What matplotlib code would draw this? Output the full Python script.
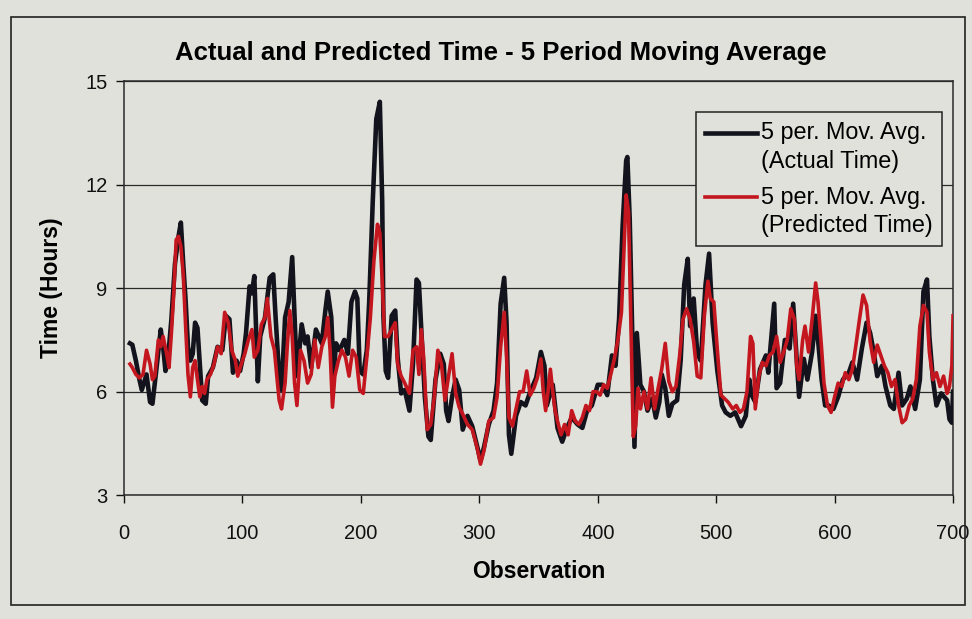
import matplotlib
matplotlib.use("Agg")
import matplotlib.pyplot as plt
from matplotlib.lines import Line2D
from matplotlib.legend_handler import HandlerLine2D
from matplotlib.patches import Rectangle

plt.rcParams['font.family'] = ['Liberation Sans', 'DejaVu Sans']

# 5-period moving average of the actual time (hours)
actual_obs = [5, 7, 10, 13, 15, 19, 22, 24, 27, 31, 33, 35, 37, 40, 43, 46, 48, 50, 52, 54,
              56, 58, 60, 62, 64, 66, 69, 71, 75, 79, 83, 86, 89, 92, 95, 98, 101, 103, 106, 108,
              110, 113, 115, 119, 123, 126, 128, 131, 133, 136, 139, 142, 144, 146, 150, 153, 155, 158, 162, 167,
              170, 172, 175, 177, 179, 182, 186, 189, 192, 195, 197, 199, 202, 205, 207, 210, 213, 216, 218, 219,
              221, 223, 226, 229, 231, 234, 237, 241, 244, 247, 249, 251, 254, 257, 259, 263, 267, 270, 272, 274,
              277, 280, 283, 286, 290, 294, 299, 301, 304, 308, 312, 315, 318, 321, 323, 325, 327, 331, 335, 339,
              343, 348, 352, 355, 357, 362, 366, 370, 374, 378, 383, 387, 391, 395, 400, 404, 408, 412, 415, 418,
              421, 424, 425, 427, 429, 431, 433, 436, 439, 442, 446, 449, 452, 454, 457, 460, 463, 467, 470, 473,
              476, 478, 481, 484, 487, 491, 494, 497, 501, 505, 508, 512, 516, 521, 525, 528, 530, 533, 537, 542,
              544, 549, 551, 554, 558, 562, 565, 568, 570, 574, 577, 581, 584, 586, 589, 592, 595, 599, 603, 607,
              612, 615, 619, 623, 627, 630, 633, 636, 640, 643, 647, 650, 654, 657, 661, 664, 668, 672, 675, 678,
              680, 683, 686, 690, 695, 697, 699, 700]
actual_hours = [7.4, 7.36, 6.9, 6.35, 6.05, 6.5, 5.7, 5.65, 6.55, 7.8, 7.3, 6.6, 6.9, 8.1, 9.7, 10.5, 10.9, 9.7, 8.65, 7.3,
                6.9, 7.1, 8.0, 7.85, 6.8, 5.75, 5.65, 6.45, 6.7, 7.3, 7.2, 8.2, 8.1, 6.55, 6.9, 6.6, 7.1, 7.7, 9.05, 8.85,
                9.35, 6.3, 7.6, 8.15, 9.3, 9.4, 8.15, 6.45, 6.05, 8.15, 8.6, 9.9, 8.15, 6.45, 7.95, 7.4, 7.6, 6.7, 7.8, 7.4,
                8.35, 8.9, 8.15, 6.5, 7.4, 7.2, 7.5, 7.1, 8.6, 8.9, 8.7, 6.6, 6.5, 7.2, 8.6, 11.5, 13.9, 14.4, 11.5, 8.2,
                6.6, 6.4, 8.2, 8.35, 7.0, 5.95, 6.05, 5.45, 6.8, 9.25, 9.15, 7.8, 5.85, 4.7, 4.6, 6.35, 7.1, 6.8, 5.45, 5.15,
                5.85, 6.35, 6.05, 4.9, 5.3, 5.0, 4.3, 4.0, 4.4, 5.05, 5.45, 6.25, 8.55, 9.3, 8.0, 4.75, 4.2, 5.3, 5.7, 5.6,
                6.0, 6.4, 7.15, 6.75, 5.6, 6.2, 4.95, 4.55, 4.95, 5.25, 5.05, 4.95, 5.45, 5.6, 6.2, 6.2, 5.9, 7.05, 6.75, 8.1,
                10.8, 12.7, 12.8, 11.0, 7.9, 4.4, 7.7, 6.2, 6.0, 5.45, 5.8, 5.25, 5.7, 6.5, 6.1, 5.3, 5.65, 5.75, 6.9, 9.1,
                9.85, 7.9, 8.7, 7.1, 6.9, 9.1, 10.0, 8.0, 6.6, 5.6, 5.4, 5.3, 5.4, 5.0, 5.3, 6.35, 5.9, 5.7, 6.65, 7.05,
                6.55, 8.55, 6.1, 6.25, 7.5, 7.25, 8.55, 6.95, 5.85, 6.95, 6.35, 7.15, 8.2, 7.5, 6.35, 5.6, 5.6, 5.5, 5.85, 6.35,
                6.55, 6.85, 6.35, 7.25, 8.0, 7.7, 7.15, 6.45, 6.75, 6.15, 5.6, 5.5, 6.55, 5.6, 5.8, 6.15, 5.5, 6.35, 8.9, 9.25,
                7.6, 6.35, 5.6, 5.95, 5.75, 5.2, 5.1, 6.0]

# 5-period moving average of the predicted time (hours)
predicted_obs = [5, 7, 10, 13, 16, 19, 22, 24, 26, 29, 31, 33, 36, 38, 40, 42, 44, 46, 48, 50,
                 52, 54, 56, 58, 60, 62, 64, 66, 68, 70, 73, 76, 79, 82, 85, 88, 91, 94, 96, 99,
                 102, 105, 108, 110, 113, 116, 119, 121, 124, 127, 129, 131, 133, 136, 138, 140, 142, 144, 146, 149,
                 152, 155, 158, 161, 164, 167, 170, 172, 174, 176, 178, 181, 184, 187, 190, 193, 196, 199, 202, 205,
                 208, 211, 214, 216, 218, 220, 223, 226, 229, 231, 234, 237, 241, 244, 247, 249, 251, 253, 256, 259,
                 262, 265, 268, 271, 274, 277, 280, 283, 286, 290, 294, 298, 301, 304, 308, 312, 315, 318, 321, 323,
                 325, 328, 331, 334, 337, 340, 343, 346, 349, 352, 354, 356, 358, 360, 362, 364, 366, 369, 372, 375,
                 378, 381, 384, 387, 390, 393, 396, 399, 402, 405, 408, 411, 414, 417, 420, 422, 424, 426, 428, 430,
                 432, 434, 436, 439, 442, 445, 448, 451, 454, 457, 460, 463, 466, 469, 472, 475, 478, 481, 484, 487,
                 490, 493, 495, 498, 501, 504, 507, 510, 514, 517, 520, 523, 526, 529, 531, 533, 536, 539, 542, 545,
                 548, 551, 554, 557, 560, 563, 566, 568, 570, 573, 575, 578, 581, 584, 586, 589, 591, 594, 597, 600,
                 603, 606, 609, 612, 615, 618, 621, 624, 627, 630, 633, 636, 639, 642, 645, 648, 651, 654, 657, 660,
                 663, 666, 669, 672, 675, 678, 680, 683, 686, 689, 692, 695, 697, 699, 700]
predicted_hours = [6.8, 6.7, 6.5, 6.4, 6.5, 7.2, 6.8, 6.35, 6.45, 7.5, 7.3, 7.6, 7.1, 6.7, 7.7, 8.85, 10.4, 10.5, 10.2, 9.4,
                   7.9, 6.5, 5.85, 6.7, 6.9, 6.35, 5.85, 6.15, 5.95, 6.35, 6.5, 6.8, 7.3, 7.1, 8.3, 8.0, 7.2, 6.9, 6.45, 6.8,
                   7.1, 7.5, 7.8, 7.0, 7.2, 7.95, 8.15, 8.7, 7.6, 7.2, 6.45, 5.75, 5.5, 6.25, 7.4, 8.35, 7.6, 6.25, 5.6, 7.2,
                   6.9, 6.25, 6.5, 7.5, 6.7, 7.3, 7.6, 8.15, 7.2, 5.55, 6.45, 6.9, 7.2, 7.0, 6.45, 7.2, 7.0, 6.05, 5.95, 7.0,
                   8.15, 9.8, 10.85, 10.6, 9.2, 7.6, 7.6, 7.8, 8.0, 6.8, 6.45, 6.25, 5.95, 7.2, 7.3, 6.5, 7.8, 7.0, 4.9, 5.05,
                   5.85, 7.2, 6.8, 5.75, 6.45, 7.1, 5.95, 5.55, 5.35, 5.05, 4.9, 4.4, 3.9, 4.3, 5.15, 5.25, 5.85, 7.3, 8.3, 7.0,
                   5.25, 5.0, 5.5, 6.0, 6.0, 6.6, 5.9, 6.1, 6.4, 6.95, 6.0, 5.45, 6.0, 6.65, 6.0, 5.45, 5.15, 4.75, 5.05, 4.75,
                   5.45, 5.15, 5.05, 5.25, 5.6, 5.45, 6.0, 6.0, 5.9, 6.2, 6.1, 6.5, 6.95, 7.5, 8.3, 10.0, 11.7, 11.2, 8.0, 4.7,
                   5.0, 6.1, 5.5, 6.0, 5.5, 6.4, 5.5, 6.1, 6.65, 7.4, 6.3, 6.0, 6.15, 7.0, 8.1, 8.4, 8.1, 7.45, 6.45, 6.4,
                   8.2, 9.2, 8.7, 8.6, 7.2, 5.9, 5.8, 5.7, 5.5, 5.6, 5.4, 5.5, 6.0, 7.6, 7.4, 5.5, 6.45, 6.85, 6.75, 7.05,
                   7.15, 7.6, 6.85, 7.15, 7.5, 8.4, 8.1, 6.75, 6.35, 7.5, 7.9, 7.15, 8.1, 9.15, 8.6, 7.25, 6.25, 5.6, 5.4, 5.85,
                   6.25, 6.15, 6.55, 6.35, 6.65, 7.35, 8.1, 8.8, 8.5, 7.45, 6.85, 7.35, 7.05, 6.75, 6.55, 6.15, 6.35, 5.6, 5.1, 5.2,
                   5.6, 5.8, 6.35, 7.9, 8.5, 8.3, 7.15, 6.35, 6.55, 6.15, 6.45, 5.95, 6.15, 6.75, 8.2]

x_ticks = [0, 100, 200, 300, 400, 500, 600, 700]
y_ticks = [3, 6, 9, 12, 15]

paper = '#e1e1db'
black_line = '#13131d'
red_line = '#c3161e'


class FirstRowHandler(HandlerLine2D):
    # put the legend swatch level with the first line of a two-line label
    def create_artists(self, legend, orig_handle, xdescent, ydescent,
                       width, height, fontsize, trans):
        artists = super().create_artists(legend, orig_handle, xdescent, ydescent,
                                         width, height, fontsize, trans)
        for a in artists:
            a.set_ydata([y + 0.65 * fontsize for y in a.get_ydata()])
        return artists


fig = plt.figure(figsize=(9.72, 6.19), dpi=100, facecolor=paper)
ax = fig.add_axes([0.1276, 0.2, 0.8529, 0.669])
ax.set_facecolor(paper)

# outer chart frame
fig.patches.append(Rectangle((0.011, 0.022), 0.982, 0.951, transform=fig.transFigure,
                             fill=False, edgecolor='#222222', linewidth=1.2))

ax.plot(actual_obs, actual_hours, color=black_line, linewidth=3.3, solid_joinstyle='round',
        label='5 per. Mov. Avg.\n(Actual Time)', zorder=3)
ax.plot(predicted_obs, predicted_hours, color=red_line, linewidth=2.6, solid_joinstyle='round',
        label='5 per. Mov. Avg.\n(Predicted Time)', zorder=4)

ax.set_xlim(0, 700)
ax.set_ylim(3, 15)
ax.set_xticks(x_ticks)
ax.set_yticks(y_ticks)
ax.yaxis.grid(True, color='#2a2a2a', linewidth=0.9)
ax.set_axisbelow(True)
for s in ax.spines.values():
    s.set_color('#2a2a2a')
    s.set_linewidth(1.1)

ax.tick_params(axis='x', direction='out', length=6, width=1, pad=15, labelsize=14.5, colors='#111111')
ax.tick_params(axis='y', direction='out', length=6, width=1, pad=6, labelsize=14.5, colors='#111111')

ax.set_xlabel('Observation', fontsize=16.5, fontweight='bold', labelpad=12)
ax.set_ylabel('Time (Hours)', fontsize=16.5, fontweight='bold', labelpad=16)
fig.text(0.515, 0.914, 'Actual and Predicted Time - 5 Period Moving Average',
         ha='center', va='center', fontsize=18.5, fontweight='bold')

leg = ax.legend(loc='upper left', bbox_to_anchor=(696 / 972, 1 - 112 / 619),
                bbox_transform=fig.transFigure, borderaxespad=0, fontsize=16.8,
                frameon=True, fancybox=False, facecolor=paper, edgecolor='#222222',
                framealpha=1, handlelength=2.2, handletextpad=0.2, borderpad=0.4,
                labelspacing=0.55, handler_map={Line2D: FirstRowHandler()})
leg.get_frame().set_linewidth(1.1)
for t in leg.get_texts():
    t.set_linespacing(1.3)

fig.savefig('out.png', dpi=100, facecolor=paper)
